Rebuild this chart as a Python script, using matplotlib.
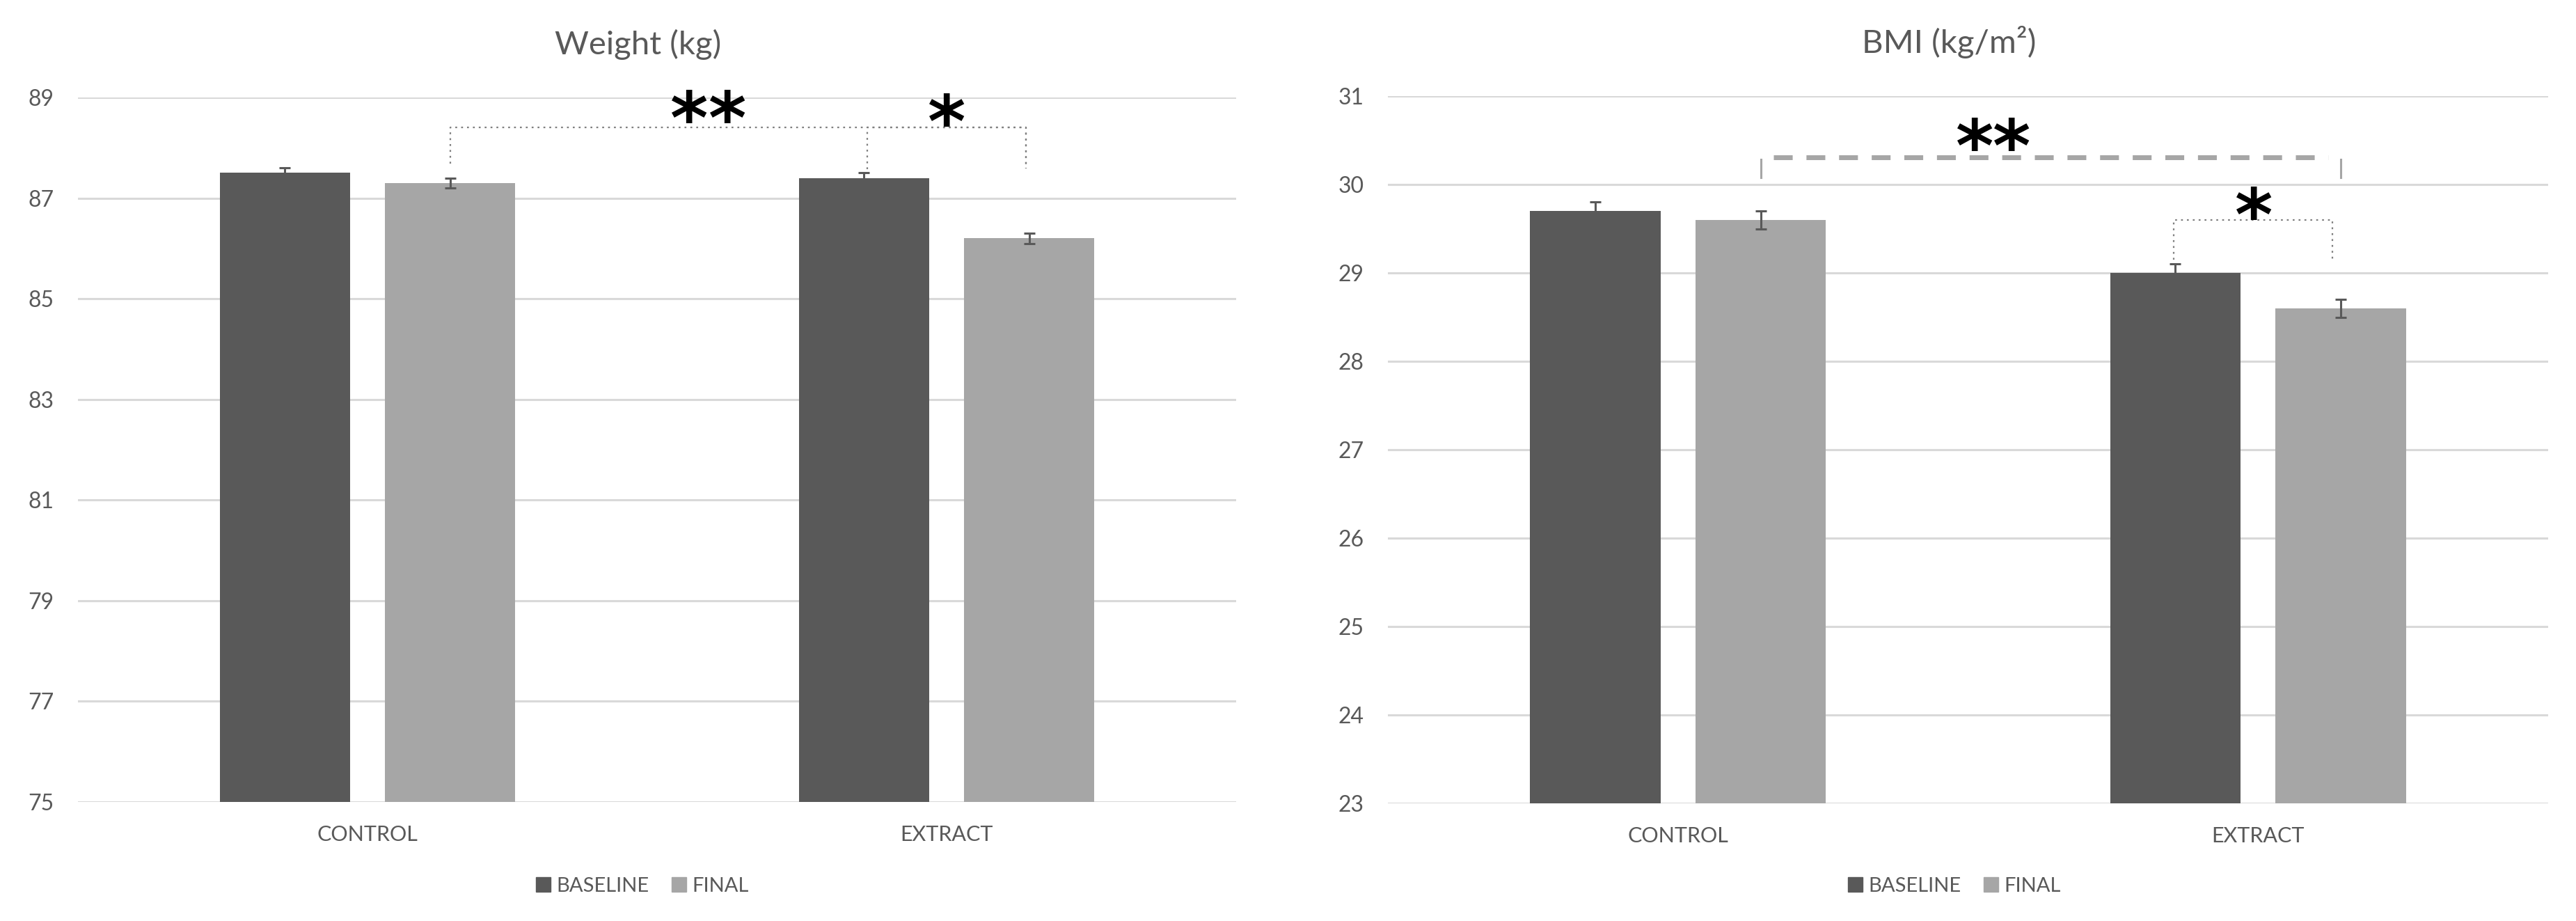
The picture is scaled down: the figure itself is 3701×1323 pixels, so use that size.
import numpy as np
import matplotlib
matplotlib.use("Agg")
import matplotlib.pyplot as plt
from matplotlib.patches import Patch

plt.rcParams['font.family'] = ['Lato', 'DejaVu Sans']

# values (mean +/- error)
groups = ["CONTROL", "EXTRACT"]
series = ["BASELINE", "FINAL"]

weight_baseline = [87.5, 87.4]
weight_final = [87.3, 86.2]
weight_baseline_err = [0.1, 0.1]
weight_final_err = [0.1, 0.1]

bmi_baseline = [29.7, 29.0]
bmi_final = [29.6, 28.6]
bmi_baseline_err = [0.1, 0.1]
bmi_final_err = [0.1, 0.1]

weight_ticks = [75, 77, 79, 81, 83, 85, 87, 89]
bmi_ticks = [23, 24, 25, 26, 27, 28, 29, 30, 31]

dark = "#595959"
light = "#a6a6a6"
grid_col = "#d9d9d9"
text_col = "#595959"

W, H = 3701, 1323
fig = plt.figure(figsize=(W / 100, H / 100), dpi=100)

bar_w = 0.225
off = 0.1425
x = np.arange(len(groups))


def draw_panel(ax, base, fin, base_err, fin_err, ticks):
    ax.bar(x - off, base, bar_w, color=dark, zorder=2)
    ax.bar(x + off, fin, bar_w, color=light, zorder=2)
    eb = dict(fmt="none", ecolor=dark, elinewidth=2.2, capsize=5.8, capthick=2.2, zorder=3)
    ax.errorbar(x - off, base, yerr=base_err, **eb)
    ax.errorbar(x + off, fin, yerr=fin_err, **eb)
    ax.set_xlim(-0.5, 1.5)
    ax.set_ylim(ticks[0], ticks[-1])
    ax.set_yticks(ticks)
    ax.set_xticks(x)
    ax.set_xticklabels(groups)
    ax.yaxis.grid(True, color=grid_col, linewidth=2.2, zorder=0)
    ax.set_axisbelow(True)
    for s in ax.spines.values():
        s.set_visible(False)
    ax.tick_params(axis="y", length=0, pad=25, labelsize=23, labelcolor=text_col)
    ax.tick_params(axis="x", length=0, pad=24, labelsize=22, labelcolor=text_col)


def dotted_bracket(ax, x1, x2, y_top, y1, y2):
    ls = dict(color="#7f7f7f", linewidth=1.6, linestyle=(0, (1.2, 2.6)), clip_on=False, zorder=4)
    ax.plot([x1, x1, x2, x2], [y1, y_top, y_top, y2], **ls)


def stars(ax, xpos, ypos, n, gap):
    # one text per asterisk so the spacing can follow the reference
    for k in range(n):
        xk = xpos + (k - (n - 1) / 2) * gap
        ax.text(xk, ypos, "*", ha="center", va="baseline", fontsize=75, fontweight="bold",
                family="DejaVu Sans", color="black", clip_on=False, zorder=5)


# weight panel
ax1 = fig.add_axes([112 / W, 1 - 1152 / H, 1664 / W, 1012 / H])
draw_panel(ax1, weight_baseline, weight_final, weight_baseline_err, weight_final_err, weight_ticks)
dotted_bracket(ax1, x[0] + off, x[1] + off - 0.006, 88.41, 87.69, 87.59)
dotted_bracket(ax1, x[1] - off + 0.006, x[1] + off - 0.006, 88.41, 87.58, 87.59)
stars(ax1, 0.588, 88.09, 2, 0.066)
stars(ax1, 1.0, 88.02, 1, 0.066)

# bmi panel
ax2 = fig.add_axes([1994 / W, 1 - 1154 / H, 1667 / W, 1016 / H])
draw_panel(ax2, bmi_baseline, bmi_final, bmi_baseline_err, bmi_final_err, bmi_ticks)
xl, xr = x[0] + off, x[1] + off
ax2.plot([xl + 0.022, xr - 0.022], [30.31, 30.31], color=light, linewidth=5,
         linestyle=(0, (3.9, 2.85)), clip_on=False, zorder=4)
ax2.plot([xl, xl], [30.08, 30.28], color=light, linewidth=2.2, zorder=4)
ax2.plot([xr, xr], [30.08, 30.28], color=light, linewidth=2.2, zorder=4)
dotted_bracket(ax2, x[1] - off - 0.003, x[1] + off - 0.014, 29.60, 29.15, 29.15)
stars(ax2, 0.543, 30.15, 2, 0.064)
stars(ax2, 0.9925, 29.37, 1, 0.064)

# titles
fig.text(917 / W, 1 - 78 / H, "Weight (kg)", ha="center", va="baseline", fontsize=34, color=text_col)
fig.text(2800 / W, 1 - 76 / H, "BMI (kg/m²)", ha="center", va="baseline", fontsize=34, color=text_col)

# legends
handles = [Patch(color=dark, label=series[0]), Patch(color=light, label=series[1])]
for cx in (923, 2808):
    fig.legend(handles=handles, loc="center", bbox_to_anchor=(cx / W, 1 - 1273 / H), ncol=2,
               frameon=False, fontsize=21, labelcolor=text_col, handlelength=0.72, handleheight=0.72,
               handletextpad=0.3, columnspacing=1.1)

fig.savefig("out.png", dpi=100, facecolor="white")
